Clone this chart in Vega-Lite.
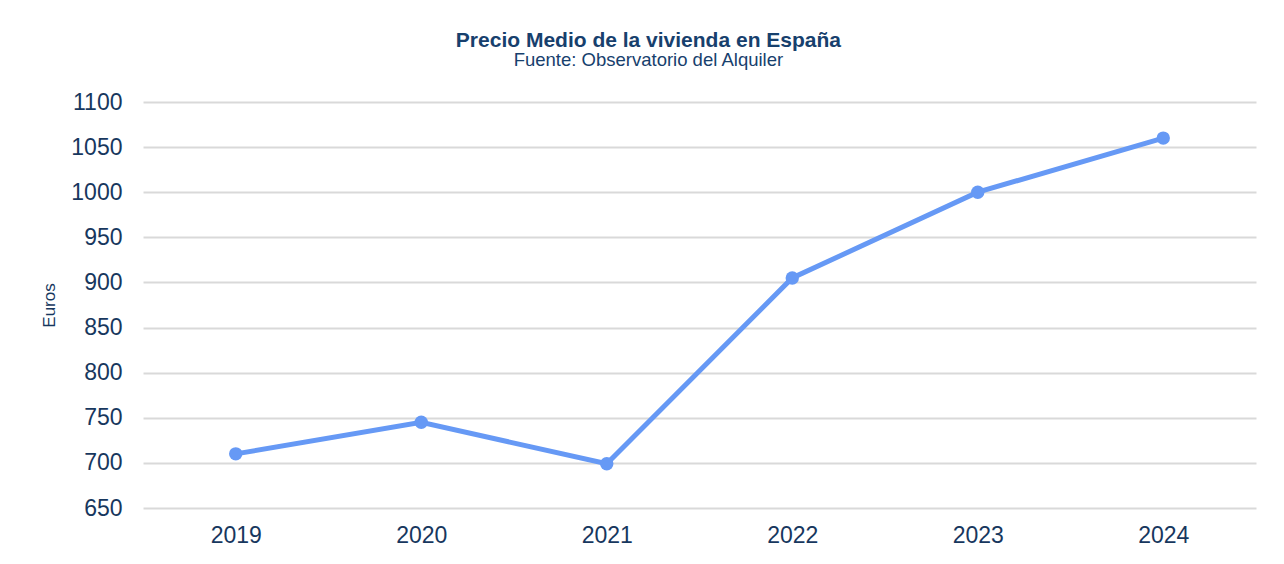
{
  "$schema": "https://vega.github.io/schema/vega-lite/v6.json",
  "autosize": {"type": "none"},
  "width": 1113,
  "height": 406,
  "padding": {"left": 143, "top": 102, "right": 28, "bottom": 56},
  "background": "white",
  "config": {
    "view": {"stroke": null},
    "font": "Liberation Sans"
  },
  "title": {
    "text": "Precio Medio de la vivienda en España",
    "subtitle": "Fuente: Observatorio del Alquiler",
    "anchor": "middle",
    "frame": "bounds",
    "font": "Liberation Sans",
    "fontSize": 21,
    "fontWeight": "bold",
    "color": "#17406D",
    "subtitleFont": "Liberation Sans",
    "subtitleFontSize": 18.5,
    "subtitleColor": "#17406D",
    "subtitlePadding": 0,
    "offset": 22
  },
  "data": {
    "values": [
      {"year": "2019", "precio": 710},
      {"year": "2020", "precio": 745},
      {"year": "2021", "precio": 699},
      {"year": "2022", "precio": 905},
      {"year": "2023", "precio": 1000},
      {"year": "2024", "precio": 1060}
    ]
  },
  "encoding": {
    "x": {
      "field": "year",
      "type": "ordinal",
      "scale": {"type": "point", "padding": 0.5},
      "axis": {
        "title": null,
        "labelAngle": 0,
        "labelFontSize": 23,
        "labelColor": "#17375E",
        "labelPadding": 16,
        "domain": false,
        "ticks": false,
        "grid": false
      }
    },
    "y": {
      "field": "precio",
      "type": "quantitative",
      "scale": {"domain": [650, 1100], "nice": false, "zero": false},
      "axis": {
        "title": "Euros",
        "titleFontSize": 17,
        "titleFontWeight": "normal",
        "titleColor": "#17375E",
        "titlePadding": 12,
        "format": "d",
        "values": [650, 700, 750, 800, 850, 900, 950, 1000, 1050, 1100],
        "labelFontSize": 23,
        "labelColor": "#17375E",
        "labelPadding": 21,
        "domain": false,
        "ticks": false,
        "grid": true,
        "gridColor": "#D9D9D9",
        "gridWidth": 2
      }
    }
  },
  "layer": [
    {
      "mark": {"type": "line", "color": "#6699F5", "strokeWidth": 5}
    },
    {
      "mark": {"type": "point", "filled": true, "color": "#6699F5", "size": 180, "opacity": 1}
    }
  ]
}
